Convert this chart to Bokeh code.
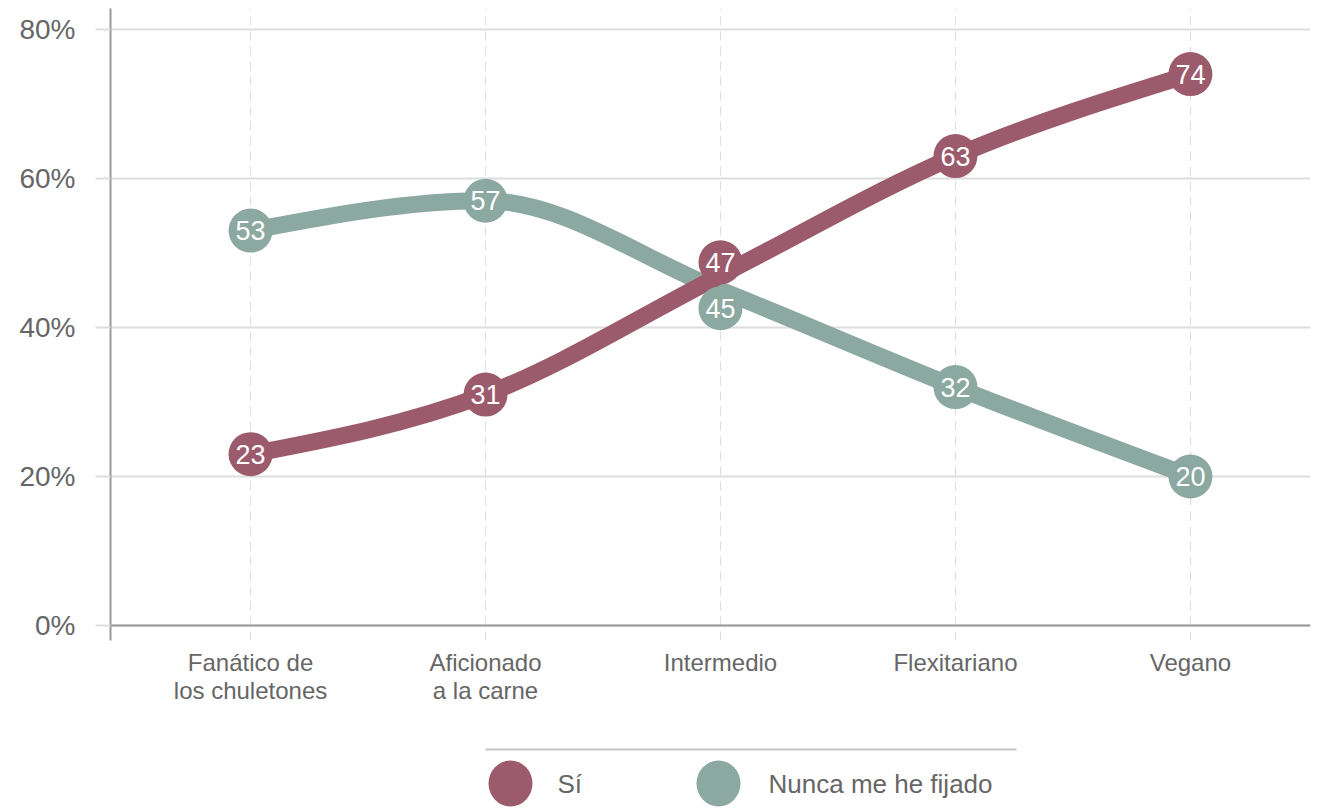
from bokeh.plotting import figure
from bokeh.models import Range1d, FixedTicker, Span, ColumnDataSource
from bokeh.layouts import column
from bokeh.core.properties import value
from bokeh.embed import file_html
from bokeh.resources import INLINE

# ---------------- data ----------------
categories = ["Fanático de\nlos chuletones", "Aficionado\na la carne", "Intermedio", "Flexitariano", "Vegano"]
si_values = [23, 31, 47, 63, 74]
nunca_values = [53, 57, 45, 32, 20]
series_names = ["Sí", "Nunca me he fijado"]
y_ticks = [0, 20, 40, 60, 80]
y_tick_labels = ["0%", "20%", "40%", "60%", "80%"]

# ---------------- style ----------------
FONT = "Liberation Sans"
SI_COLOR = "#9c5b6d"
NUNCA_COLOR = "#8ba8a1"
TEXT_COLOR = "#666666"
GRID_COLOR = "#dddddd"
AXIS_COLOR = "#999999"
LINE_W = 17
MARKER_SIZE = 44
# label collision nudges (screen px, negative = up)
si_nudge_px = [0, 0, -13, 0, 0]
nunca_nudge_px = [0, 0, 18, 0, 0]

W = 1319
BORDER_L, BORDER_R = 110, 9
TOP = 8
FRAME_H = 632
H_MAIN = 728
H_LEG = 84
Y0, Y1 = -2.0, 82.8
X0, X1 = -0.596, 4.511

xs = list(range(len(categories)))

p = figure(width=W, height=H_MAIN, output_backend="svg", toolbar_location=None,
           x_range=Range1d(X0, X1), y_range=Range1d(Y0, Y1),
           min_border_left=BORDER_L, min_border_right=BORDER_R, min_border_top=TOP,
           min_border_bottom=H_MAIN - FRAME_H - TOP)
p.outline_line_color = None

# grids
p.ygrid.ticker = FixedTicker(ticks=y_ticks)
p.ygrid.grid_line_color = GRID_COLOR
p.ygrid.grid_line_width = 2
p.xgrid.ticker = FixedTicker(ticks=xs)
p.xgrid.grid_line_color = GRID_COLOR
p.xgrid.grid_line_width = 1
p.xgrid.grid_line_dash = "9 6"

# y axis
ya = p.yaxis[0]
ya.ticker = FixedTicker(ticks=y_ticks)
ya.major_label_overrides = {t: l for t, l in zip(y_ticks, y_tick_labels)}
ya.axis_line_color = AXIS_COLOR
ya.axis_line_width = 2
ya.major_tick_in = 0
ya.major_tick_out = 15
ya.major_tick_line_color = GRID_COLOR
ya.major_tick_line_width = 2
ya.minor_tick_line_color = None
ya.major_label_standoff = 20
ya.major_label_text_font = FONT
ya.major_label_text_font_size = "28px"
ya.major_label_text_color = TEXT_COLOR

# x axis
xa = p.xaxis[0]
xa.ticker = FixedTicker(ticks=xs)
xa.major_label_overrides = {i: c for i, c in zip(xs, categories)}
xa.axis_line_color = None
xa.major_tick_line_color = None
xa.minor_tick_line_color = None
xa.major_label_standoff = 2
xa.major_label_text_font = FONT
xa.major_label_text_font_size = "24px"
xa.major_label_text_color = TEXT_COLOR
xa.major_label_text_line_height = 1.06

p.add_layout(Span(location=0, dimension="width", line_color=AXIS_COLOR, line_width=2))


def monotone_bezier(xv, yv):
    n = len(xv)
    s = [(yv[i + 1] - yv[i]) / (xv[i + 1] - xv[i]) for i in range(n - 1)]
    t = [0.0] * n
    for i in range(1, n - 1):
        s0, s1 = s[i - 1], s[i]
        if s0 * s1 <= 0:
            t[i] = 0.0
        else:
            pp = (s0 + s1) / 2
            sign = 1 if s0 > 0 else -1
            t[i] = 2 * sign * min(abs(s0), abs(s1), 0.5 * abs(pp))
    t[0] = (3 * s[0] - t[1]) / 2
    t[-1] = (3 * s[-1] - t[-2]) / 2
    d = dict(x0=[], y0=[], x1=[], y1=[], cx0=[], cy0=[], cx1=[], cy1=[])
    for i in range(n - 1):
        h = xv[i + 1] - xv[i]
        d["x0"].append(xv[i]); d["y0"].append(yv[i])
        d["x1"].append(xv[i + 1]); d["y1"].append(yv[i + 1])
        d["cx0"].append(xv[i] + h / 3); d["cy0"].append(yv[i] + h / 3 * t[i])
        d["cx1"].append(xv[i + 1] - h / 3); d["cy1"].append(yv[i + 1] - h / 3 * t[i + 1])
    return d


px_per_unit = FRAME_H / (Y1 - Y0)
series = [(nunca_values, NUNCA_COLOR, nunca_nudge_px), (si_values, SI_COLOR, si_nudge_px)]

for vals, color, nudge in series:
    bz = ColumnDataSource(monotone_bezier(xs, vals))
    p.bezier(x0="x0", y0="y0", x1="x1", y1="y1", cx0="cx0", cy0="cy0", cx1="cx1", cy1="cy1",
             source=bz, line_color=color, line_width=LINE_W, line_cap="round")

for vals, color, nudge in series:
    my = [v - n / px_per_unit for v, n in zip(vals, nudge)]
    src = ColumnDataSource(dict(x=xs, y=my, lab=[str(v) for v in vals]))
    p.scatter(x="x", y="y", source=src, size=MARKER_SIZE, fill_color=color, line_color=None)
    p.text(x="x", y="y", text="lab", source=src, text_color="white", text_align="center",
           text_baseline="middle", text_font=value(FONT), text_font_size="27px")

# ---------------- legend (pixel coordinates) ----------------
leg = figure(width=W, height=H_LEG, output_backend="svg", toolbar_location=None,
             x_range=Range1d(BORDER_L, W - BORDER_R), y_range=Range1d(H_LEG, 0),
             min_border_left=BORDER_L, min_border_right=BORDER_R, min_border_top=0, min_border_bottom=0)
leg.axis.visible = False
leg.grid.visible = False
leg.outline_line_color = None
leg.segment(x0=[485], y0=[21], x1=[1016], y1=[21], line_color="#c4c4c4", line_width=2)
leg.ellipse(x=[510, 718], y=[55, 55], width=44, height=46, fill_color=[SI_COLOR, NUNCA_COLOR], line_color=None)
leg.text(x=[557, 768], y=[55, 55], text=series_names, text_color=TEXT_COLOR, text_align="left",
         text_baseline="middle", text_font=value(FONT), text_font_size="26px")

layout = column(p, leg, spacing=0)
open("out.html", "w").write(file_html(layout, INLINE))
